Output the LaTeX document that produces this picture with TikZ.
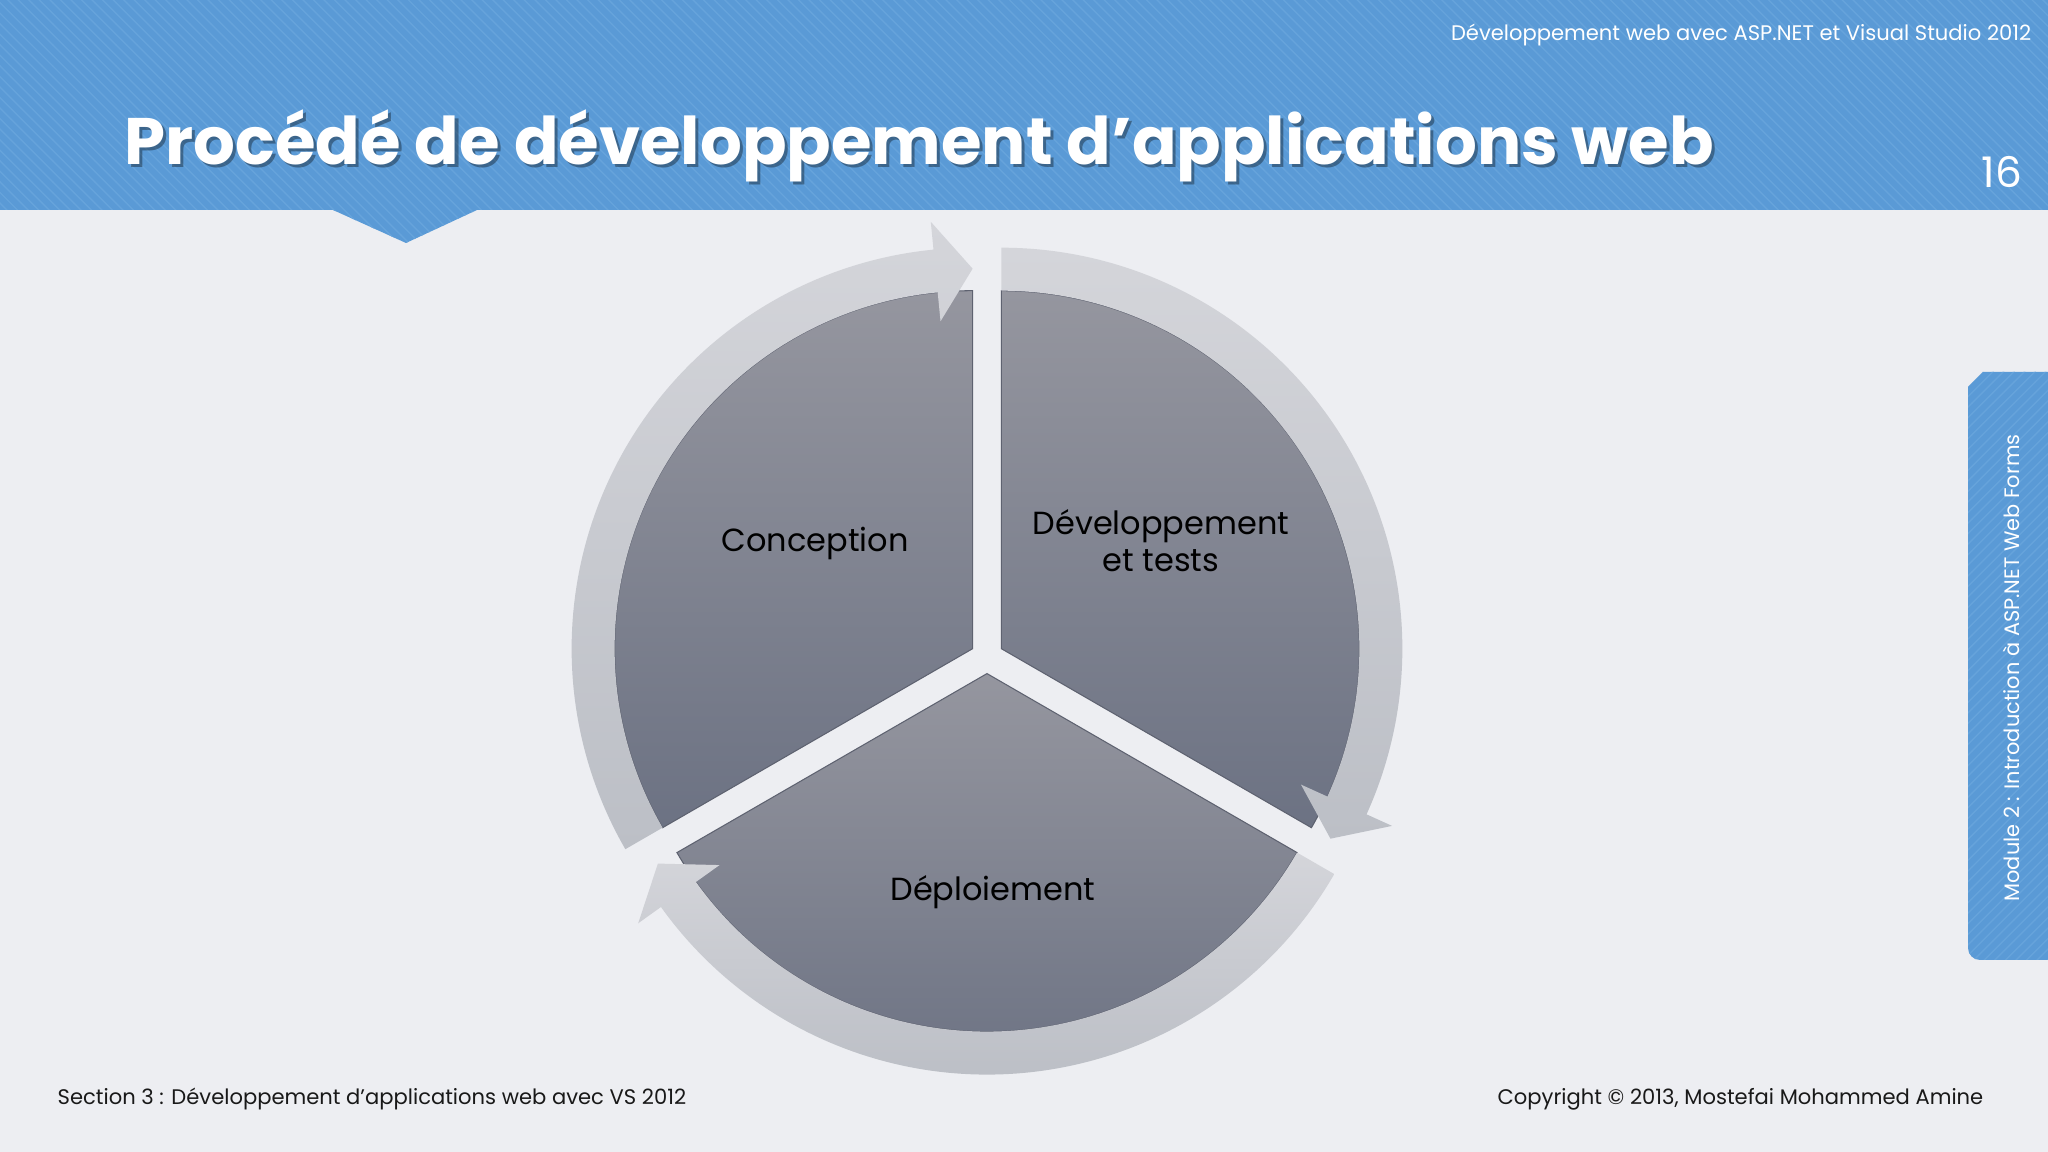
\documentclass[tikz,border=0pt]{standalone}
\usepackage{fontspec}
\setmainfont{Poppins}
\usetikzlibrary{positioning, patterns}

\definecolor{bgcol}{HTML}{EDEEF2}
\definecolor{headblue}{HTML}{5A9AD6}
\definecolor{stripeblue}{HTML}{66A3DB}
\definecolor{sectortop}{HTML}{95969F}
\definecolor{sectorbot}{HTML}{6C7283}
\definecolor{sectoredge}{HTML}{5E6270}
\definecolor{ringtop}{HTML}{D4D5DA}
\definecolor{ringbot}{HTML}{BCBFC6}

\begin{document}
\begin{tikzpicture}[every sector/.style={draw=sectoredge, line width=0.3pt, top color=sectortop, bottom color=sectorbot},
    every ring/.style={top color=ringtop, bottom color=ringbot},
    every step/.style={font=\fontsize{9.1}{10.5}\selectfont, align=center},
    small white/.style={text=white, inner sep=0pt, font=\fontsize{6}{7}\selectfont},
    small dark/.style={text=black!90, inner sep=0pt, font=\fontsize{6}{7}\selectfont}]

    \useasboundingbox (0,0) rectangle (20.48,11.52);

    % Background
    \fill[bgcol] (0,0) rectangle (20.48,11.52);

    % Header band with its pointer - Blue stripes
    \path[fill=headblue, postaction={pattern=north west lines, pattern color=stripeblue}]
        (0,9.42) -- (3.33,9.42) -- (4.06,9.09) -- (4.77,9.42) -- (20.48,9.42)
        -- (20.48,11.52) -- (0,11.52) -- cycle;

    % Side tab
    \path[fill=headblue, postaction={pattern=north east lines, pattern color=stripeblue}]
        (20.48,7.80) -- (19.83,7.80) -- (19.68,7.65) [rounded corners=0.12cm] -- (19.68,1.92)
        [sharp corners] -- (20.48,1.92) -- cycle;

    % Pie sectors, each pushed out along its middle
    \begin{scope}[shift={(9.87,4.95)}]
    \foreach \a in {150, 30, 270}
        \path[every sector, shift={(\a:0.166)}] (0,0) -- (\a-60:3.58)
            arc[start angle=\a-60, end angle=\a+60, radius=3.58] -- cycle;

    % Arrow rings round the sectors (clockwise)
    \foreach \a in {150, 30, 270}
        \path[every ring, shift={(\a:0.166)}] (\a+60:3.58) -- (\a+60:4.01)
            arc[start angle=\a+60, end angle=\a-54.4, radius=4.01]
            -- (\a-54.4:4.29) -- (\a-60:3.80) -- (\a-54.4:3.29) -- (\a-54.4:3.58)
            arc[start angle=\a-54.4, end angle=\a+60, radius=3.58] -- cycle;

    % Step labels
    \node[every step] (S-1) at (-1.72, 1.13) {Conception};
    \node[every step] (S-2) at (1.74, 1.16) {Développement\\et tests};
    \node[every step] (S-3) at (0.06, -2.35) {Déploiement};
    \end{scope}

    % Header texts
    \node[small white, anchor=base east] (course) at (20.32, 11.11) {Développement web avec ASP.NET et Visual Studio 2012};
    \node[anchor=base west, inner sep=0pt, text=black, opacity=0.35, font=\fontsize{18.7}{21}\selectfont\bfseries] (title-shadow) at (1.27, 9.84) {Procédé de développement d’applications web};
    \node[anchor=base west, inner sep=0pt, text=white, font=\fontsize{18.7}{21}\selectfont\bfseries] (title) at (1.24, 9.87) {Procédé de développement d’applications web};
    \node[anchor=base, inner sep=0pt, text=white, font=\fontsize{12}{14}\selectfont] (page) at (20.02, 9.64) {16};

    % Side tab text
    \node[small white, rotate=90, font=\fontsize{5.95}{7}\selectfont] (module) at (20.11, 4.84) {Module 2 : Introduction à ASP.NET Web Forms};

    % Footer
    \node[small dark, anchor=base west] (section) at (0.57, 0.47) {Section 3 : Développement d’applications web avec VS 2012};
    \node[small dark, anchor=base east] (copyright) at (19.84, 0.47) {Copyright © 2013, Mostefai Mohammed Amine};

\end{tikzpicture}
\end{document}
